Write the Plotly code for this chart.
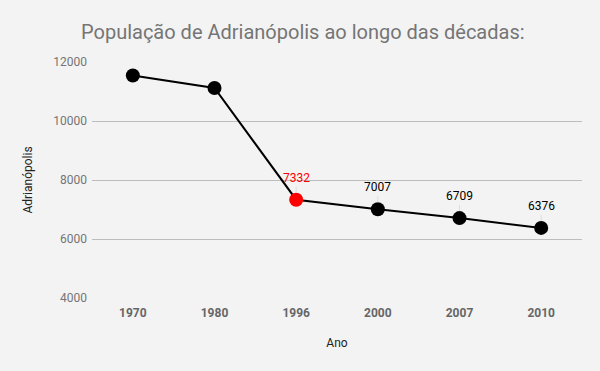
import plotly.graph_objects as go

years = ["1970", "1980", "1996", "2000", "2007", "2010"]
population = [11540, 11120, 7332, 7007, 6709, 6376]
labeled = [False, False, True, True, True, True]
highlight_year = "1996"

title_text = "População de Adrianópolis ao longo das décadas:"
x_title = "Ano"
y_title = "Adrianópolis"
y_ticks = [4000, 6000, 8000, 10000, 12000]

colors = ["#ff0000" if y == highlight_year else "#000000" for y in years]

fig = go.Figure()
fig.add_trace(go.Scatter(
    x=years, y=population, mode="lines+markers",
    line=dict(color="#000000", width=2),
    marker=dict(color=colors, size=14),
    hoverinfo="x+y", showlegend=False,
))

for i, (val, lab, col) in enumerate(zip(population, labeled, colors)):
    if lab:
        fig.add_annotation(
            x=i, y=val, xref="x", yref="y", text=str(val), showarrow=True,
            arrowhead=0, arrowwidth=1, arrowcolor="#dddddd",
            ax=0, ay=-13, standoff=7,
            font=dict(family="Roboto", size=12, color=col),
            yanchor="bottom",
        )

fig.update_layout(
    width=600, height=371,
    paper_bgcolor="#f3f3f3", plot_bgcolor="#f3f3f3",
    margin=dict(l=92, r=18, t=62, b=73),
    title=dict(text=title_text, x=81/600, xanchor="left", y=1-32/371, yanchor="middle",
               font=dict(family="Roboto", size=20, color="#757575")),
    font=dict(family="Roboto", color="#757575"),
)
fig.update_xaxes(
    type="category", range=[-0.5, 5.5],
    showgrid=False, showline=False, zeroline=False, ticks="",
    ticklabelstandoff=6,
    tickfont=dict(family="Roboto", size=12, color="#666666", weight="bold"),
    title=dict(text=x_title, font=dict(family="Roboto", size=12, color="#222222"), standoff=19),
)
fig.update_yaxes(
    range=[4000, 12000], tickvals=y_ticks, tickformat="d",
    showgrid=True, gridcolor="#bdbdbd", gridwidth=1, zeroline=False,
    ticks="", ticklabelstandoff=4,
    tickfont=dict(family="Roboto", size=12, color="#757575"),
    title=dict(text=y_title, font=dict(family="Roboto", size=12, color="#222222"), standoff=18),
)

fig.write_html("out.html", config={"displayModeBar": False},
               post_script="document.body.style.margin='0';")
